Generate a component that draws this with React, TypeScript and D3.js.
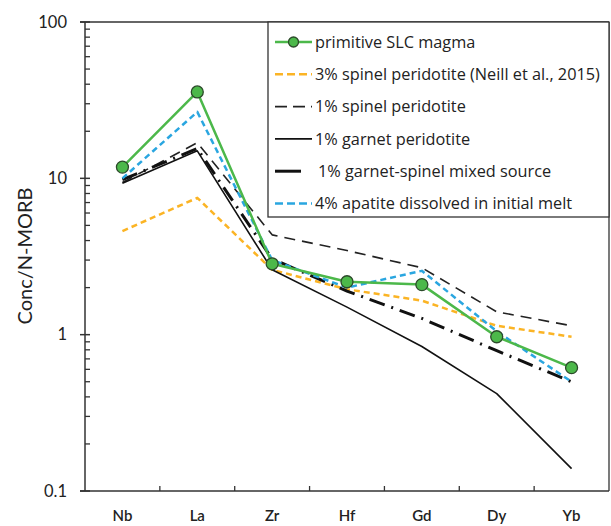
import * as React from 'react'
import * as d3 from 'd3'

// element order along x
const elements = ['Nb', 'La', 'Zr', 'Hf', 'Gd', 'Dy', 'Yb']

// N-MORB normalised concentrations
const primitiveSLC = [11.8, 35.7, 2.84, 2.18, 2.09, 0.97, 0.615]
const spinel3 = [4.6, 7.5, 2.6, 1.95, 1.65, 1.14, 0.97]
const spinel1 = [9.4, 16.9, 4.35, 3.45, 2.68, 1.4, 1.14]
const garnet1 = [9.3, 15.0, 2.6, 1.5, 0.84, 0.42, 0.139]
const mixed1 = [9.8, 15.5, 3.05, 1.9, 1.27, 0.79, 0.5]
const apatite4 = [10.0, 26.6, 3.0, 2.0, 2.56, 1.05, 0.5]

const yTicks = [0.1, 1, 10, 100]

const series = [
  {name: 'primitive SLC magma', values: primitiveSLC, color: '#4cb84a', width: 2.5, dash: null, marker: true},
  {name: '3% spinel peridotite (Neill et al., 2015)', values: spinel3, color: '#fbb425', width: 2.5, dash: '6,4', marker: false},
  {name: '1% spinel peridotite', values: spinel1, color: '#222', width: 1.6, dash: '11,7', marker: false},
  {name: '1% garnet peridotite', values: garnet1, color: '#111', width: 1.6, dash: null, marker: false},
  {name: '1% garnet-spinel mixed source', values: mixed1, color: '#111', width: 3, dash: '16,7,2,7', marker: false},
  {name: '4% apatite dissolved in initial melt', values: apatite4, color: '#2aa6e0', width: 2.5, dash: '6,4', marker: false},
]

// draw order: background lines first, green on top
const drawOrder = [2, 1, 3, 4, 5, 0]

export default function App() {
  const width = 611
  const height = 526
  const left = 85, right = 609, top = 22, bottom = 491

  const x = d3.scaleBand().domain(elements).range([left, right])
  const y = d3.scaleLog().domain([0.1, 100]).range([bottom, top])

  const line = d3.line<number>()
    .x((d, i) => x(elements[i])! + x.bandwidth() / 2)
    .y(d => y(d))

  const minorTicks: number[] = []
  for (let dec = 0.1; dec < 100; dec *= 10) {
    for (let k = 2; k <= 9; k++) minorTicks.push(dec * k)
  }

  const font = 'Lato, "Open Sans", sans-serif'
  const legFont = '"Open Sans", sans-serif'
  const legX = 268, legY = 22, legW = 341, legH = 195

  return (
    <svg width={width} height={height} style={{position: 'absolute', left: 0, top: 0}}>
      <rect x={0} y={0} width={width} height={height} fill='#fff' />

      {/* frame */}
      <line x1={80} x2={right} y1={top} y2={top} stroke='#333' strokeWidth={1.3} />
      <line x1={right} x2={right} y1={top} y2={bottom} stroke='#333' strokeWidth={1.3} />
      <line x1={left} x2={left} y1={top} y2={bottom} stroke='#333' strokeWidth={1.5} />
      <line x1={80} x2={right} y1={bottom} y2={bottom} stroke='#333' strokeWidth={1.5} />

      {/* y ticks */}
      {yTicks.map(t => (
        <g key={t}>
          <line x1={80} x2={90} y1={y(t)} y2={y(t)} stroke='#333' strokeWidth={1.5} />
          <text x={67} y={y(t)} dy='0.35em' textAnchor='end' fontSize={16.5} fontFamily={font} fill='#222'>{t}</text>
        </g>
      ))}
      {minorTicks.map((t, i) => (
        <line key={i} x1={left} x2={90} y1={y(t)} y2={y(t)} stroke='#333' strokeWidth={1.3} />
      ))}

      {/* x ticks and labels */}
      {elements.slice(1).map(e => (
        <line key={e} x1={x(e)} x2={x(e)} y1={bottom} y2={bottom - 5} stroke='#333' strokeWidth={1.3} />
      ))}
      {elements.map(e => (
        <text key={e} x={x(e)! + x.bandwidth() / 2} y={521} textAnchor='middle' fontSize={15} fontWeight={600} fontFamily={font} fill='#222'>{e}</text>
      ))}

      <text transform={`translate(32,256) rotate(-90)`} textAnchor='middle' fontSize={20} fontFamily={font} fill='#222'>Conc/N-MORB</text>

      {/* series */}
      {drawOrder.map(i => {
        const s = series[i]
        return (
          <g key={s.name}>
            <path d={line(s.values)!} fill='none' stroke={s.color} strokeWidth={s.width}
              strokeDasharray={s.dash ?? undefined} strokeLinejoin='round' />
            {s.marker && s.values.map((v, j) => (
              <circle key={j} cx={x(elements[j])! + x.bandwidth() / 2} cy={y(v)} r={6}
                fill='#4cb84a' stroke='#2c4a2a' strokeWidth={1.3} />
            ))}
          </g>
        )
      })}

      {/* legend */}
      <rect x={legX} y={legY} width={legW} height={legH} fill='#fff' stroke='#333' strokeWidth={1.3} />
      {series.map((s, i) => {
        const ly = 42 + i * 32.3
        const legDash = i === 1 || i === 5 ? '8,4' : i === 2 ? '12,6' : undefined
        return (
          <g key={s.name}>
            <line x1={275} x2={i === 4 ? 301 : 312} y1={ly} y2={ly} stroke={s.color} strokeWidth={s.width}
              strokeDasharray={legDash} />
            {s.marker && <circle cx={293.5} cy={ly} r={5} fill='#4cb84a' stroke='#2c4a2a' strokeWidth={1.3} />}
            <text x={i === 4 ? 318 : 315} y={ly} dy='0.35em' fontSize={16.3} fontFamily={legFont} fill='#222'>{s.name}</text>
          </g>
        )
      })}
    </svg>
  )
}
